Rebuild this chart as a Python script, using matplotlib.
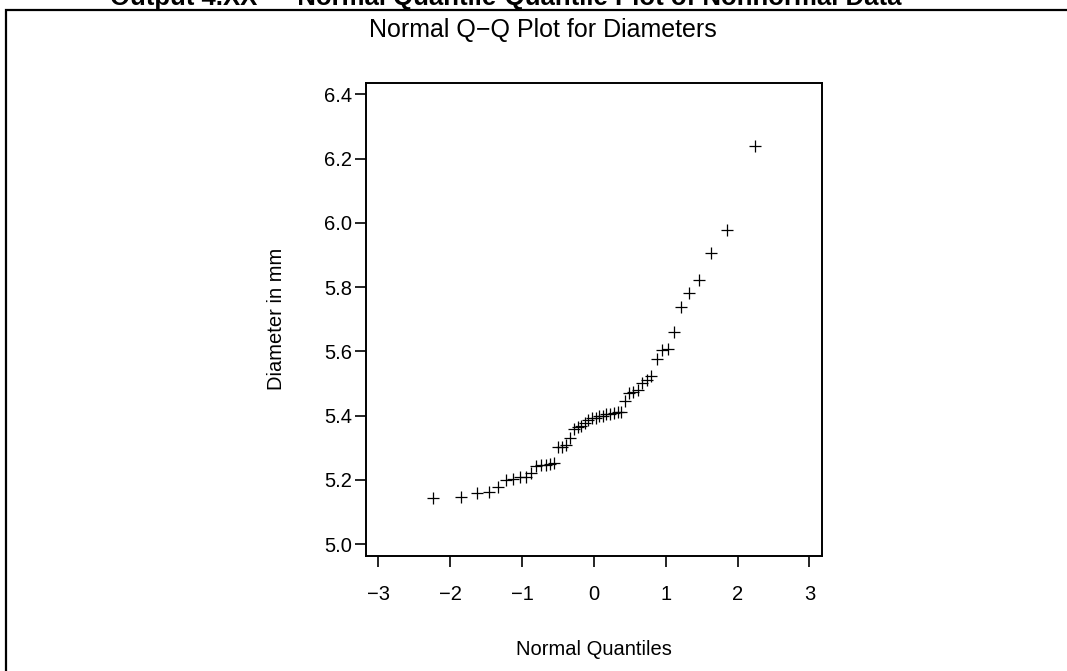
import matplotlib
matplotlib.use("Agg")
import matplotlib.pyplot as plt
from matplotlib.patches import Rectangle

# normal quantiles (x) and sorted diameters (y), 50 readings
quantiles = [-2.243, -1.847, -1.624, -1.460, -1.328, -1.216, -1.118, -1.029, -0.948, -0.872,
             -0.801, -0.734, -0.671, -0.609, -0.550, -0.493, -0.438, -0.383, -0.330, -0.278,
             -0.226, -0.175, -0.125, -0.075, -0.025, 0.025, 0.075, 0.125, 0.175, 0.226,
             0.278, 0.330, 0.383, 0.438, 0.493, 0.550, 0.609, 0.671, 0.734, 0.801,
             0.872, 0.948, 1.029, 1.118, 1.216, 1.328, 1.460, 1.624, 1.847, 2.243]
diameters = [5.143, 5.146, 5.160, 5.164, 5.177, 5.200, 5.202, 5.208, 5.209, 5.223,
             5.244, 5.247, 5.248, 5.251, 5.252, 5.304, 5.304, 5.309, 5.332, 5.360,
             5.366, 5.368, 5.376, 5.388, 5.394, 5.394, 5.399, 5.399, 5.404, 5.404,
             5.409, 5.410, 5.410, 5.445, 5.470, 5.475, 5.480, 5.501, 5.512, 5.525,
             5.576, 5.603, 5.607, 5.661, 5.739, 5.781, 5.823, 5.907, 5.977, 6.239]
x_ticks = [-3, -2, -1, 0, 1, 2, 3]
y_ticks = [5.0, 5.2, 5.4, 5.6, 5.8, 6.0, 6.2, 6.4]

plt.rcParams["font.family"] = ["Liberation Sans", "DejaVu Sans"]

W, H = 1067, 671
fig = plt.figure(figsize=(W / 100, H / 100), dpi=100)

# outer box (right and bottom edges fall off the picture)
fig.patches.append(Rectangle((6 / W, -0.1), 1.2, 1 - 10 / H + 0.1, transform=fig.transFigure,
                             fill=False, edgecolor="black", linewidth=1.6))

# caption, cut off at the top as in the source page
fig.text(110 / W, 1 - 5 / H, "Output 4.XX — Normal Quantile-Quantile Plot of Nonnormal Data",
         ha="left", va="baseline", fontsize=18.5, fontweight="bold")

fig.text(543 / W, 1 - 37 / H, "Normal Q\u2212Q Plot for Diameters",
         ha="center", va="baseline", fontsize=18)

ax = fig.add_axes([366 / W, 1 - 555.5 / H, (821.7 - 366) / W, (555.5 - 82.7) / H])
ax.plot(quantiles, diameters, linestyle="none", marker="+", color="black",
        markersize=9, markeredgewidth=0.9)

ax.set_xlim(-3.17, 3.17)
ax.set_ylim(4.965, 6.436)
ax.set_xticks(x_ticks)
ax.set_yticks(y_ticks)
ax.set_yticklabels([f"{v:.1f}" for v in y_ticks])
ax.tick_params(axis="both", direction="out", length=8, width=1.2, labelsize=14.5)
ax.tick_params(axis="x", pad=13)
ax.tick_params(axis="y", pad=2)
for s in ax.spines.values():
    s.set_linewidth(1.4)

ax.set_xlabel("Normal Quantiles", fontsize=14.5, labelpad=26)
ax.set_ylabel("Diameter in mm", fontsize=14.5, labelpad=27)

fig.savefig("out.png", dpi=100)
